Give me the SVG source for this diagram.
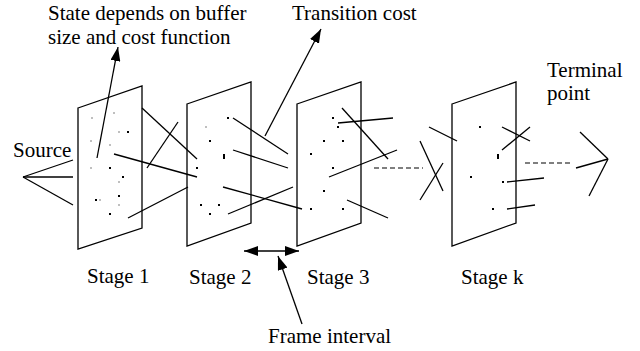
<svg xmlns="http://www.w3.org/2000/svg" width="640" height="351" viewBox="0 0 640 351">
<style>
  .panel{fill:none;stroke:#000;stroke-width:1.3;stroke-linejoin:miter}
  .ln{stroke:#000;stroke-width:1.3;fill:none;stroke-linecap:butt}
  .dash{stroke:#000;stroke-width:1.1;stroke-dasharray:5,3;fill:none}
  .lbl{font-size:21px;fill:#000}
  .d{fill:#000}
</style>
<defs>
  <marker id="ah" markerUnits="userSpaceOnUse" markerWidth="16" markerHeight="10" refX="14" refY="5" orient="auto">
    <path d="M0,0 L14,5 L0,10 Z" fill="#000"/>
  </marker>
  <marker id="ahs" markerUnits="userSpaceOnUse" markerWidth="16" markerHeight="10" refX="0" refY="5" orient="auto">
    <path d="M14,0 L0,5 L14,10 Z" fill="#000"/>
  </marker>
</defs>
<rect width="640" height="351" fill="#fff"/>

<g font-family="Liberation Serif, DejaVu Serif, serif">
<g id="stage1">
  <path class="panel" d="M78,108 L142,86 L142,228 L78,249 Z"/>
  <rect class="d" x="91.5" y="117.5" width="1" height="1"/>
  <rect class="d" x="113.5" y="112.5" width="1" height="1"/>
  <rect class="d" x="118.5" y="131.5" width="1" height="1"/>
  <rect class="d" x="127" y="131" width="2" height="2"/>
  <rect class="d" x="90.5" y="140.5" width="1" height="1"/>
  <rect class="d" x="109.5" y="144.5" width="1" height="1"/>
  <rect class="d" x="90.5" y="167.5" width="1" height="1"/>
  <rect class="d" x="109" y="167" width="2" height="2"/>
  <rect class="d" x="122" y="176" width="2" height="2"/>
  <rect class="d" x="118.5" y="181.5" width="1" height="1"/>
  <rect class="d" x="118" y="195" width="2" height="2"/>
  <rect class="d" x="95" y="199" width="2" height="2"/>
  <rect class="d" x="99.5" y="199.5" width="1" height="1"/>
  <rect class="d" x="118.5" y="204.5" width="1" height="1"/>
  <rect class="d" x="109" y="213" width="2" height="2"/>
  <text class="lbl" x="87" y="283">Stage 1</text>
</g>

<g id="stage2">
  <path class="panel" d="M187,104 L251,82 L251,223 L187,246 Z"/>
  <rect class="d" x="227" y="117" width="2" height="2"/>
  <rect class="d" x="205.5" y="126.5" width="1" height="1"/>
  <rect class="d" x="209" y="140" width="2" height="2"/>
  <rect class="d" x="223" y="154" width="2" height="5"/>
  <rect class="d" x="196" y="167" width="2" height="2"/>
  <rect class="d" x="200" y="204" width="2" height="2"/>
  <rect class="d" x="218" y="204" width="2" height="2"/>
  <rect class="d" x="209" y="213" width="2" height="2"/>
  <text class="lbl" x="189" y="284">Stage 2</text>
</g>

<g id="stage3">
  <path class="panel" d="M297,104 L361,82 L361,223 L297,246 Z"/>
  <rect class="d" x="332" y="117" width="2" height="2"/>
  <rect class="d" x="337" y="126" width="2" height="2"/>
  <rect class="d" x="323" y="140" width="2" height="2"/>
  <rect class="d" x="342" y="140" width="2" height="2"/>
  <rect class="d" x="310" y="153" width="2" height="2"/>
  <rect class="d" x="332" y="167" width="2" height="2"/>
  <rect class="d" x="323" y="190" width="2" height="2"/>
  <rect class="d" x="310" y="208" width="2" height="2"/>
  <rect class="d" x="342" y="208" width="2" height="2"/>
  <text class="lbl" x="307" y="284">Stage 3</text>
</g>

<g id="stagek">
  <path class="panel" d="M452,104 L516,82 L516,223 L452,246 Z"/>
  <rect class="d" x="479" y="126" width="2" height="2"/>
  <rect class="d" x="497" y="154" width="2" height="5"/>
  <rect class="d" x="470" y="176" width="2" height="2"/>
  <rect class="d" x="502" y="181" width="2" height="2"/>
  <rect class="d" x="492" y="208" width="2" height="2"/>
  <text class="lbl" x="461" y="284">Stage k</text>
</g>

<g id="source">
  <text class="lbl" x="13" y="157">Source</text>
</g>

<g id="terminal">
  <text class="lbl" x="547" y="77">Terminal</text>
  <text class="lbl" x="547" y="100">point</text>
</g>

<g id="annotations">
  <text class="lbl" x="48" y="20">State depends on buffer</text>
  <text class="lbl" x="48" y="44">size and cost function</text>
  <text class="lbl" x="292" y="20">Transition cost</text>
  <text class="lbl" x="268" y="343">Frame interval</text>
</g>
</g>

<g id="connectors">
  <line class="ln" x1="23" y1="177" x2="73" y2="160"/>
  <line class="ln" x1="23" y1="177" x2="73" y2="177"/>
  <line class="ln" x1="23" y1="177" x2="73" y2="205"/>
  <line class="ln" x1="142" y1="108" x2="197" y2="159"/>
  <line class="ln" x1="178" y1="122" x2="147" y2="168"/>
  <line class="ln" x1="114" y1="154" x2="197" y2="177"/>
  <line class="ln" x1="188" y1="187" x2="128" y2="218"/>
  <line class="ln" x1="233" y1="118" x2="288" y2="154"/>
  <line class="ln" x1="233" y1="150" x2="288" y2="168"/>
  <line class="ln" x1="223" y1="187" x2="302" y2="209"/>
  <line class="ln" x1="228" y1="214" x2="293" y2="187"/>
  <line class="ln" x1="338" y1="123" x2="393" y2="118"/>
  <line class="ln" x1="342" y1="108" x2="388" y2="159"/>
  <line class="ln" x1="329" y1="177" x2="397" y2="150"/>
  <line class="ln" x1="347" y1="200" x2="388" y2="218"/>
  <line class="dash" x1="374" y1="168" x2="423" y2="168"/>
  <line class="ln" x1="420" y1="141" x2="443" y2="191"/>
  <line class="ln" x1="443" y1="163" x2="420" y2="200"/>
  <line class="ln" x1="429" y1="127" x2="457" y2="141"/>
  <line class="ln" x1="502" y1="127" x2="530" y2="141"/>
  <line class="ln" x1="530" y1="127" x2="502" y2="150"/>
  <line class="ln" x1="507" y1="182" x2="544" y2="178"/>
  <line class="ln" x1="507" y1="209" x2="535" y2="205"/>
  <line class="dash" x1="525" y1="163" x2="573" y2="163"/>
  <line class="ln" x1="608" y1="159" x2="580" y2="132"/>
  <line class="ln" x1="608" y1="159" x2="576" y2="168"/>
  <line class="ln" x1="608" y1="159" x2="589" y2="196"/>
  <line class="ln" x1="97" y1="158" x2="118" y2="47" marker-end="url(#ah)"/>
  <line class="ln" x1="265" y1="136" x2="321" y2="29" marker-end="url(#ah)"/>
  <line class="ln" x1="244" y1="251" x2="299" y2="251" marker-start="url(#ahs)" marker-end="url(#ah)"/>
  <line class="ln" x1="302" y1="324" x2="278" y2="256" marker-end="url(#ah)"/>
</g>
</svg>
